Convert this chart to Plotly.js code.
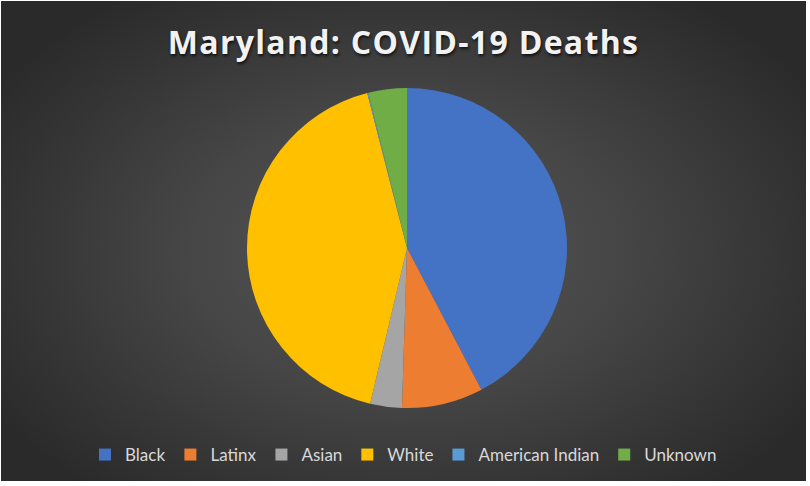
<!DOCTYPE html>
<html>
<head>
<meta charset="utf-8">
<script src="https://cdn.plot.ly/plotly-3.0.1.min.js"></script>
<style>
  html, body { margin: 0; padding: 0; background: #ffffff; }
  #wrap { position: relative; width: 810px; height: 486px; background: #ffffff; }
  #chart {
    position: absolute; left: 1px; top: 1px; width: 805px; height: 480px;
    background: radial-gradient(ellipse 60% 65% at 50% 52%, #565656 0%, #464646 45%, #343434 80%, #2a2a2a 100%);
  }
  #chart .gtitle { letter-spacing: 1.3px; }
</style>
</head>
<body>
<div id="wrap"><div id="chart"></div></div>
<script>
const categories = ["Black", "Latinx", "Asian", "White", "American Indian", "Unknown"];
const deaths = [42.3, 8.2, 3.2, 42.3, 0.1, 3.9];
const sliceColors = ["#4472C4", "#ED7D31", "#A5A5A5", "#FFC000", "#5B9BD5", "#70AD47"];
const chartTitle = "Maryland: COVID-19 Deaths";

const W = 805, H = 480;
const cx = 406, cy = 247, r = 160;

const trace = {
  type: "pie",
  labels: categories,
  values: deaths,
  sort: false,
  direction: "clockwise",
  rotation: 0,
  textinfo: "none",
  hoverinfo: "label+value",
  marker: { colors: sliceColors, line: { color: "rgba(0,0,0,0)", width: 0 } },
  domain: { x: [(cx - r) / W, (cx + r) / W], y: [1 - (cy + r) / H, 1 - (cy - r) / H] },
  automargin: false
};

const layout = {
  width: W, height: H,
  margin: { l: 0, r: 0, t: 0, b: 0 },
  paper_bgcolor: "rgba(0,0,0,0)",
  plot_bgcolor: "rgba(0,0,0,0)",
  title: {
    text: "<b>" + chartTitle + "</b>",
    x: 0.5, xanchor: "center", xref: "paper",
    y: 1 - 42 / H, yanchor: "middle", yref: "container",
    font: { family: "Open Sans, Liberation Sans, sans-serif", size: 32, color: "#f2f2f2",
            shadow: "1px 2px 3px rgba(0,0,0,0.7)" }
  },
  showlegend: true,
  legend: {
    orientation: "h",
    x: 0.5, xanchor: "center",
    y: 1 - 454 / H, yanchor: "middle",
    font: { family: "Lato, Open Sans, sans-serif", size: 17, color: "#d9d9d9" },
    bgcolor: "rgba(0,0,0,0)",
    itemwidth: 30,
    traceorder: "normal"
  }
};

Plotly.newPlot("chart", [trace], layout, { displayModeBar: false, staticPlot: true });
</script>
</body>
</html>
